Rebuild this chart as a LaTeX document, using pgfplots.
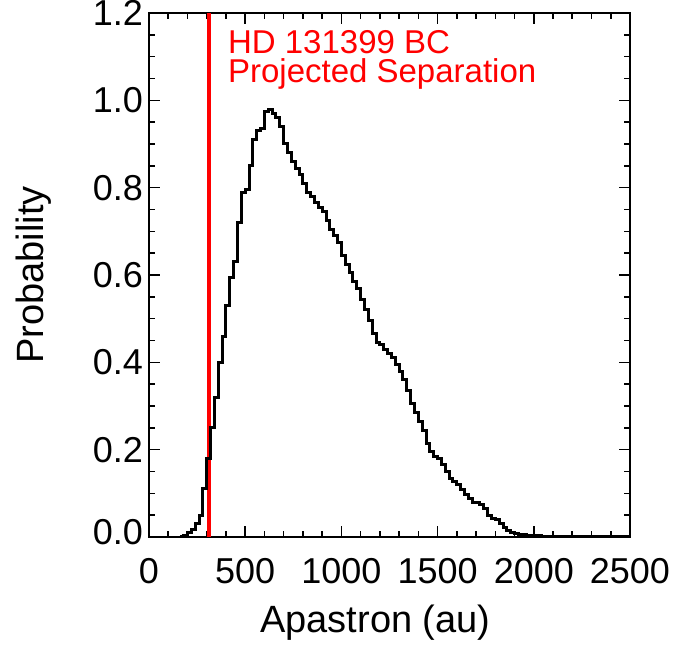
\documentclass[border=0pt]{standalone}
\usepackage{fontspec}
\setmainfont{Liberation Sans}
\usepackage{pgfplots}
\pgfplotsset{compat=1.18}

\begin{document}
\begin{tikzpicture}
\useasboundingbox (-74.5pt,-54.5pt) rectangle (272pt,268.5pt);
\begin{axis}[
    at={(0,0)}, anchor=south west,
    scale only axis,
    width=240.5pt, height=262pt,
    xmin=0, xmax=2500,
    ymin=0, ymax=1.2,
    xtick={0,500,1000,1500,2000,2500},
    ytick={0,0.2,0.4,0.6,0.8,1.0,1.2},
    yticklabels={\raisebox{5pt}{0.0},0.2,0.4,0.6,0.8,1.0,\raisebox{-5pt}{1.2}},
    minor x tick num=4,
    minor y tick num=3,
    major tick length=5.5pt,
    minor tick length=3pt,
    tick style={black, line width=0.8pt},
    axis line style={black, line width=1pt},
    /pgf/number format/assume math mode=true,
    /pgf/number format/1000 sep={},
    ticklabel style={font=\fontsize{18}{18}\selectfont},
    xticklabel style={yshift=-7pt},
    yticklabel style={xshift=0.5pt},
    label style={font=\fontsize{19}{19}\selectfont},
    xlabel={Apastron (au)},
    ylabel={Probability},
    xlabel style={yshift=-4pt, xshift=-7pt},
    ylabel style={yshift=14pt},
    clip=false
]
% projected separation
\addplot[red, line width=2pt] coordinates {(310,0) (310,1.2)};

% apastron histogram (20 au bins)
\addplot[const plot, black, line width=1.5pt] coordinates {
(160,0.000) (180,0.004) (200,0.010) (220,0.018) (240,0.030) (260,0.050)
(280,0.110) (300,0.180) (320,0.250) (340,0.320) (360,0.400) (380,0.460)
(400,0.530) (420,0.595) (440,0.630) (460,0.720) (480,0.790) (500,0.795)
(520,0.850) (540,0.910) (560,0.930) (580,0.935) (600,0.975) (620,0.980)
(640,0.970) (660,0.960) (680,0.940) (700,0.900) (720,0.880) (740,0.860)
(760,0.845) (780,0.830) (800,0.810) (820,0.790) (840,0.780) (860,0.765)
(880,0.755) (900,0.745) (920,0.725) (940,0.705) (960,0.690) (980,0.675)
(1000,0.645) (1020,0.625) (1040,0.605) (1060,0.585) (1080,0.570) (1100,0.545)
(1120,0.520) (1140,0.495) (1160,0.465) (1180,0.445) (1200,0.440) (1220,0.430)
(1240,0.420) (1260,0.410) (1280,0.395) (1300,0.380) (1320,0.360) (1340,0.335)
(1360,0.305) (1380,0.285) (1400,0.265) (1420,0.245) (1440,0.215) (1460,0.195)
(1480,0.185) (1500,0.180) (1520,0.165) (1540,0.150) (1560,0.135) (1580,0.128)
(1600,0.120) (1620,0.108) (1640,0.098) (1660,0.088) (1680,0.080) (1700,0.078)
(1720,0.074) (1740,0.065) (1760,0.050) (1780,0.043) (1800,0.040) (1820,0.030)
(1840,0.022) (1860,0.016) (1880,0.011) (1900,0.008) (1920,0.006) (1940,0.005)
(1960,0.004) (1980,0.003) (2000,0.003) (2040,0.002) (2100,0.001) (2200,0.0005)
(2300,0.000) (2500,0.000)
};

\node[anchor=base west, text=red, font=\fontsize{16.5}{16.5}\selectfont, inner sep=0pt]
    at (axis cs:409,1.108) {HD 131399 BC};
\node[anchor=base west, text=red, font=\fontsize{16.5}{16.5}\selectfont, inner sep=0pt]
    at (axis cs:409,1.040) {Projected Separation};
\end{axis}
\end{tikzpicture}
\end{document}
